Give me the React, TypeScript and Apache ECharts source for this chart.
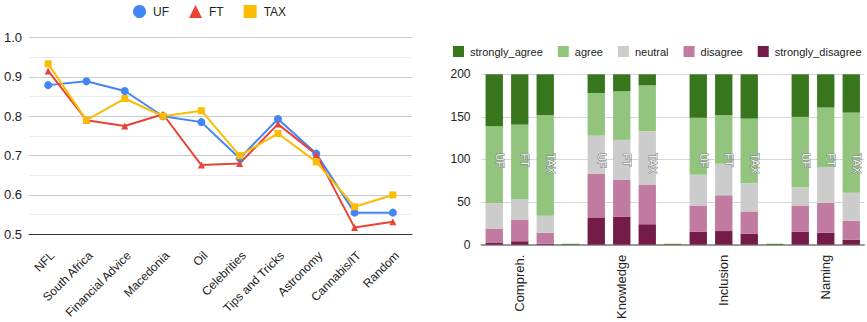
import React, { useEffect, useRef } from "react";
import * as echarts from "echarts";

// ---- Left chart data (line) ----
const topics = [
  "NFL",
  "South Africa",
  "Financial Advice",
  "Macedonia",
  "Oil",
  "Celebrities",
  "Tips and Tricks",
  "Astronomy",
  "Cannabis/IT",
  "Random",
];
const ufScores = [0.879, 0.889, 0.864, 0.8, 0.785, 0.693, 0.793, 0.705, 0.555, 0.555];
const ftScores = [0.915, 0.79, 0.775, 0.805, 0.676, 0.68, 0.78, 0.703, 0.517, 0.532];
const taxScores = [0.933, 0.79, 0.845, 0.8, 0.814, 0.7, 0.756, 0.684, 0.57, 0.6];
const lineTicks = [0.5, 1.0];

// ---- Right chart data (stacked bars) ----
const groups = ["Compreh.", "Knowledge", "Inclusion", "Naming"];
const models = ["UF", "FT", "TAX"];
// one value per bar: groups x models (UF, FT, TAX)
const stronglyDisagree = [2, 4, 1, 32, 33, 24, 15, 16, 13, 15, 14, 6];
const disagree = [17, 25, 13, 51, 43, 46, 31, 42, 26, 31, 35, 22];
const neutral = [30, 24, 20, 45, 47, 63, 36, 37, 33, 21, 42, 33];
const agree = [90, 88, 118, 50, 57, 54, 67, 57, 76, 83, 70, 94];
const stronglyAgree = [61, 59, 48, 22, 20, 13, 51, 48, 52, 50, 39, 45];
const separatorAgree = 1; // thin green line drawn in the empty gap slots
const barTicks = [0, 200];

const FONT = "'Liberation Sans', Arial, sans-serif";

function withSeparators(vals: number[], sepVal: number) {
  const out: number[] = [];
  groups.forEach((_, g) => {
    models.forEach((_, m) => out.push(vals[g * models.length + m]));
    if (g < groups.length - 1) out.push(sepVal);
  });
  return out;
}

function buildCategoryLabels() {
  const groupLabels: string[] = [];
  const modelLabels: string[] = [];
  groups.forEach((gname, g) => {
    models.forEach((mname, m) => {
      groupLabels.push(m === 1 ? gname : "");
      modelLabels.push(mname);
    });
    if (g < groups.length - 1) {
      groupLabels.push("");
      modelLabels.push("");
    }
  });
  return { groupLabels, modelLabels };
}

export default function App() {
  const ref = useRef<HTMLDivElement>(null);

  useEffect(() => {
    document.body.style.margin = "0";
    if (!ref.current) return;
    const chart = echarts.init(ref.current, undefined, { renderer: "svg" });
    const { groupLabels, modelLabels } = buildCategoryLabels();
    const barCats = groupLabels.map((_, i) => "c" + i);

    const stackNames = [
      { name: "strongly_disagree", data: withSeparators(stronglyDisagree, 0), color: "#741b47" },
      { name: "disagree", data: withSeparators(disagree, 0), color: "#c27ba0" },
      { name: "neutral", data: withSeparators(neutral, 0), color: "#cccccc" },
      { name: "agree", data: withSeparators(agree, 0), color: "#93c47d" },
      { name: "strongly_agree", data: withSeparators(stronglyAgree, separatorAgree), color: "#38761d" },
    ];

    chart.setOption({
      animation: false,
      textStyle: { fontFamily: FONT },
      legend: [
        {
          left: 133,
          top: 5,
          padding: 0,
          itemGap: 20,
          itemWidth: 13,
          itemHeight: 13,
          textStyle: { fontSize: 12, color: "#222", fontFamily: FONT, padding: [0, 0, 0, 2] },
          data: [
            { name: "UF", icon: "circle" },
            { name: "FT", icon: "triangle" },
            { name: "TAX", icon: "rect" },
          ],
        },
        {
          left: 453,
          top: 46,
          width: 600,
          padding: 0,
          itemGap: 15,
          itemWidth: 11,
          itemHeight: 11,
          textStyle: { fontSize: 11, color: "#222", fontFamily: FONT, padding: [0, 0, 0, 1] },
          data: ["strongly_agree", "agree", "neutral", "disagree", "strongly_disagree"].map(
            (n) => ({ name: n, icon: "rect" })
          ),
        },
      ],
      grid: [
        { left: 29, right: 455, top: 37.5, bottom: 87.7 },
        { left: 481.5, right: 3, top: 74.3, bottom: 71.7 },
      ],
      xAxis: [
        {
          type: "category",
          gridIndex: 0,
          data: topics,
          boundaryGap: true,
          axisLine: { lineStyle: { color: "#333", width: 1 } },
          axisTick: { alignWithLabel: true, length: 6, lineStyle: { color: "#333" } },
          axisLabel: {
            rotate: 45,
            interval: 0,
            margin: 15,
            fontSize: 12,
            color: "#222",
            fontFamily: FONT,
            verticalAlign: "top",
          },
        },
        {
          type: "category",
          gridIndex: 0,
          data: topics,
          boundaryGap: true,
          axisLine: { show: false },
          axisTick: { inside: true, alignWithLabel: true, length: 6, lineStyle: { color: "#333" } },
          axisLabel: { show: false },
        },
        {
          type: "category",
          gridIndex: 1,
          data: barCats,
          axisLine: { lineStyle: { color: "#999", width: 2 } },
          axisTick: { show: false },
          axisLabel: {
            rotate: 90,
            interval: 0,
            margin: 10,
            fontSize: 13,
            color: "#222",
            fontFamily: FONT,
            formatter: (_: string, i: number) => groupLabels[i],
          },
        },
        {
          type: "category",
          gridIndex: 1,
          data: barCats,
          axisLine: { show: false },
          axisTick: { show: false },
          axisLabel: {
            inside: true,
            rotate: 90,
            interval: 0,
            margin: 79,
            fontSize: 11,
            color: "#f4f4f4",
            textBorderColor: "#777",
            textBorderWidth: 1,
            verticalAlign: "bottom",
            fontFamily: FONT,
            formatter: (_: string, i: number) => modelLabels[i],
          },
          z: 10,
        },
      ],
      yAxis: [
        {
          type: "value",
          gridIndex: 0,
          min: lineTicks[0],
          max: lineTicks[1],
          interval: 0.1,
          axisLine: { show: false },
          axisTick: { show: false },
          axisLabel: {
            margin: 7,
            fontSize: 13,
            color: "#222",
            fontFamily: FONT,
            formatter: (v: number) => v.toFixed(1),
          },
          splitLine: { lineStyle: { color: "#cccccc" } },
          minorTick: { show: false, splitNumber: 2 },
          minorSplitLine: { show: true, lineStyle: { color: "#ebebeb" } },
        },
        {
          type: "value",
          gridIndex: 1,
          min: barTicks[0],
          max: barTicks[1],
          interval: 50,
          axisLine: { show: false },
          axisTick: { show: false },
          axisLabel: { margin: 11, fontSize: 12, color: "#222", fontFamily: FONT },
          splitLine: { lineStyle: { color: "#d6d6d6" } },
        },
      ],
      series: [
        {
          name: "UF",
          type: "line",
          xAxisIndex: 0,
          yAxisIndex: 0,
          data: ufScores,
          color: "#4285f4",
          symbol: "circle",
          symbolSize: 8,
          lineStyle: { width: 2 },
        },
        {
          name: "FT",
          type: "line",
          xAxisIndex: 0,
          yAxisIndex: 0,
          data: ftScores,
          color: "#ea4335",
          symbol: "triangle",
          symbolSize: 7,
          lineStyle: { width: 2 },
        },
        {
          name: "TAX",
          type: "line",
          xAxisIndex: 0,
          yAxisIndex: 0,
          data: taxScores,
          color: "#fbbc04",
          symbol: "rect",
          symbolSize: 7,
          lineStyle: { width: 2 },
        },
        ...stackNames.map((s) => ({
          name: s.name,
          type: "bar",
          stack: "likert",
          xAxisIndex: 2,
          yAxisIndex: 1,
          data: s.data,
          color: s.color,
          barCategoryGap: "32%",
        })),
      ],
    });
    return () => chart.dispose();
  }, []);

  return <div ref={ref} style={{ width: 867, height: 322 }} />;
}
